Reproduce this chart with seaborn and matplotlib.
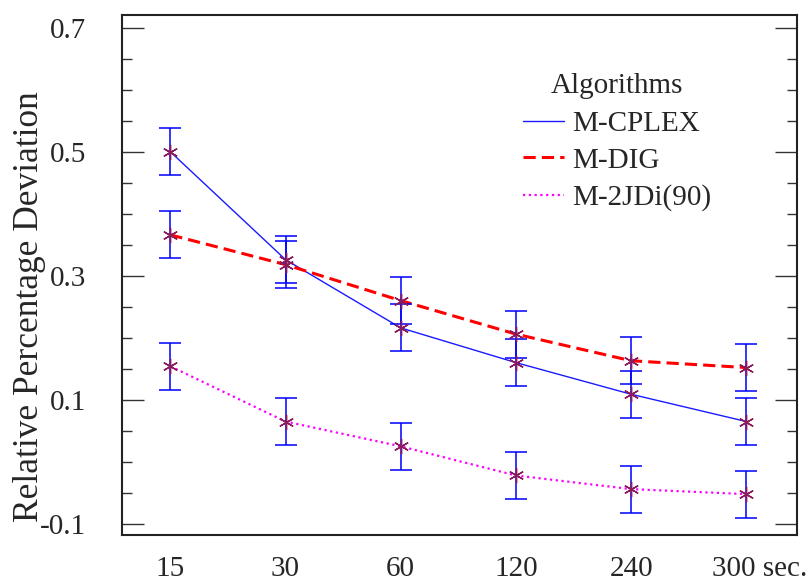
import matplotlib
matplotlib.use("Agg")
import matplotlib.pyplot as plt
import matplotlib.transforms as mtransforms
from matplotlib.lines import Line2D
from matplotlib.ticker import FixedLocator, MultipleLocator
import pandas as pd
import seaborn as sns

# time limits (x categories)
times = ["15", "30", "60", "120", "240", "300 sec."]

# mean RPD per algorithm
cplex = [0.500, 0.326, 0.216, 0.160, 0.109, 0.065]
dig = [0.366, 0.318, 0.260, 0.206, 0.163, 0.152]
jdi = [0.154, 0.065, 0.025, -0.022, -0.044, -0.052]

# half widths of the error bars
cplex_err = [0.038, 0.038, 0.038, 0.038, 0.038, 0.038]
dig_err = [0.038, 0.038, 0.038, 0.038, 0.038, 0.038]
jdi_err = [0.038, 0.038, 0.038, 0.038, 0.038, 0.038]

names = ["M-CPLEX", "M-DIG", "M-2JDi(90)"]
yticks = [-0.1, 0.1, 0.3, 0.5, 0.7]
ytick_labels = ["-0.1", "0.1", "0.3", "0.5", "0.7"]

sns.set_theme(style="white")
plt.rcParams["font.family"] = ["Liberation Serif", "DejaVu Serif"]
plt.rcParams["axes.unicode_minus"] = False

frames = []
for name, vals, errs in zip(names, [cplex, dig, jdi], [cplex_err, dig_err, jdi_err]):
    frames.append(pd.DataFrame({
        "pos": range(len(times)),
        "time": times,
        "rpd": vals,
        "err": errs,
        "algorithm": name,
    }))
data = pd.concat(frames, ignore_index=True)

styles = {
    "M-CPLEX": dict(color="#1a1aff", lw=1.0, dashes=(None, None)),
    "M-DIG": dict(color="#ff0000", lw=2.2, dashes=(4, 2)),
    "M-2JDi(90)": dict(color="#ff00ff", lw=1.6, dashes=(1, 1.6)),
}

fig = plt.figure(figsize=(8.11, 5.86), dpi=100)
ax = fig.add_axes([0.1504, 0.0870, 0.8323, 0.8874])

for name in names:
    sub = data[data["algorithm"] == name]
    st = styles[name]
    sns.lineplot(data=sub, x="pos", y="rpd", color=st["color"],
                 linewidth=st["lw"], ax=ax, legend=False, sort=False)
    line = ax.lines[-1]
    if st["dashes"][0] is not None:
        line.set_dashes(st["dashes"])

for name in names:
    sub = data[data["algorithm"] == name]
    ax.errorbar(sub["pos"], sub["rpd"], yerr=sub["err"], fmt="none",
                ecolor="#0000ff", elinewidth=1.3, capsize=8, capthick=1.3,
                alpha=0.85, zorder=3)

for name in names:
    sub = data[data["algorithm"] == name]
    ax.plot(sub["pos"], sub["rpd"], linestyle="none", marker=(6, 2, 0),
            markersize=11, markeredgecolor="#8b1a5a", markeredgewidth=1.0,
            zorder=4)

ax.set_xlim(-0.42, 5.44)
ax.set_ylim(-0.118, 0.7205)

ax.set_xticks(range(len(times)))
ax.set_xticklabels(times)
ax.tick_params(axis="x", length=0, labelsize=21, pad=15)
last = ax.get_xticklabels()[-1]
last.set_transform(last.get_transform() +
                   mtransforms.ScaledTranslation(0.13, 0, fig.dpi_scale_trans))

ax.yaxis.set_major_locator(FixedLocator(yticks))
ax.set_yticklabels(ytick_labels)
ax.yaxis.set_minor_locator(MultipleLocator(0.05))
ax.tick_params(axis="y", which="major", direction="in", length=16, width=1,
               left=True, right=True, labelsize=21, pad=26, color="#333333")
ax.tick_params(axis="y", which="minor", direction="in", length=7, width=1,
               left=True, right=True, color="#333333")

ax.set_xlabel("")
ax.set_ylabel("Relative Percentage Deviation", fontsize=25.5)
ax.yaxis.set_label_coords(-0.112, 0.44)

for sp in ax.spines.values():
    sp.set_color("#222222")
    sp.set_linewidth(1.5)

handles = []
for name in names:
    st = styles[name]
    h = Line2D([], [], color=st["color"], lw=st["lw"])
    if st["dashes"][0] is not None:
        h.set_dashes(st["dashes"])
    handles.append(h)
leg = ax.legend(handles, names, title="Algorithms", loc="upper left",
                bbox_to_anchor=(0.594, 0.888), frameon=False, fontsize=21,
                title_fontsize=21, handlelength=1.4, handletextpad=0.3,
                labelspacing=0.36, borderpad=0, borderaxespad=0)
leg._legend_box.sep = 8

fig.savefig("out.png", dpi=100)
